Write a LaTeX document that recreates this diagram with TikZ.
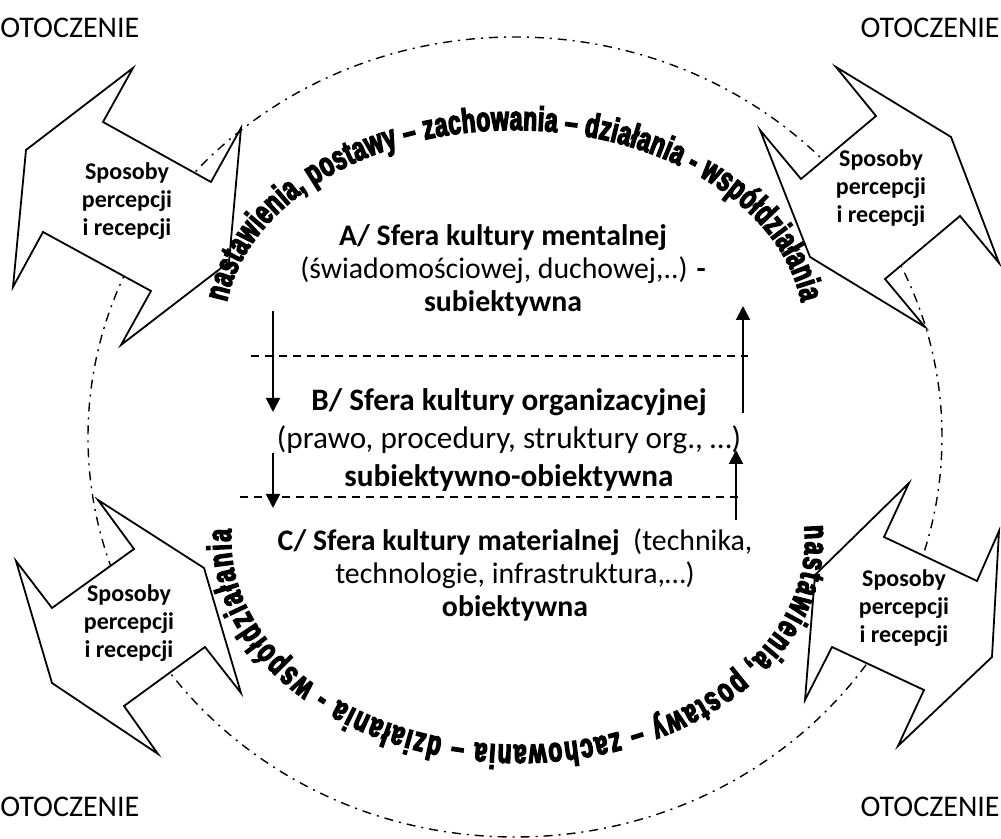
\documentclass[tikz,border=0pt]{standalone}
\usepackage{fontspec}
\setmainfont{Carlito}
\newfontfamily\arcfont{Liberation Sans}[FakeStretch=0.67, BoldFeatures={FakeBold=4}]
\usetikzlibrary{arrows.meta, decorations.text, positioning}

\begin{document}
\begin{tikzpicture}[x = 0.5pt, y = 0.5pt,
    >={Triangle[length = 7pt, width = 7pt]},
    arrowline/.style = {->, line width = 1pt},
    sepline/.style = {dash pattern = on 4pt off 3pt, line width = 0.6pt},
    outline/.style = {draw, fill = white, line width = 0.9pt, line join = miter},
    sposoby/.style = {font = \bfseries\fontsize{12}{14}\selectfont, align = center},
    otocz/.style = {font = \fontsize{15}{18}\selectfont},
    sfera/.style = {font = \fontsize{14.9}{16.5}\selectfont, align = center}]
      \useasboundingbox (0, 0) rectangle (1001, 839);

      % outer ring
      \draw [line width = 0.7pt, dash pattern = on 4.5pt off 3pt on 1pt off 3pt]
        (515, 402) ellipse [x radius = 427, y radius = 400];

      % arrow shapes
      \draw [outline] (133,771) -- (103,717) -- (211,657) -- (241,711) -- (229,577)
        -- (121,494) -- (151,548) -- (43,607) -- (13,552) -- (26,689) -- cycle;
      \draw [outline] (836,772) -- (951,702) -- (999,576) -- (960,623) -- (885,560)
        -- (925,512) -- (810,582) -- (760,709) -- (801,660) -- (876,723) -- cycle;
      \draw [outline] (98,339) -- (134,290) -- (52,231) -- (16,278) -- (52,156)
        -- (158,85) -- (124,133) -- (205,192) -- (241,146) -- (204,271) -- cycle;
      \draw [outline] (909,356) -- (884,302) -- (977,258) -- (999,308) -- (992,182)
        -- (898,93) -- (924,149) -- (832,192) -- (805,139) -- (815,264) -- cycle;

      % place nodes
      \node (sp1) [sposoby] at (127, 638) {Sposoby\\percepcji\\i recepcji};
      \node (sp2) [sposoby] at (881, 651) {Sposoby\\percepcji\\i recepcji};
      \node (sp3) [sposoby] at (129, 216) {Sposoby\\percepcji\\i recepcji};
      \node (sp4) [sposoby] at (904, 231) {Sposoby\\percepcji\\i recepcji};

      \node (ot1) [otocz, anchor = base west, inner sep = 0pt] at (0, 801) {OTOCZENIE};
      \node (ot2) [otocz, anchor = base east, inner sep = 0pt] at (1000, 801) {OTOCZENIE};
      \node (ot3) [otocz, anchor = base west, inner sep = 0pt] at (0, 22) {OTOCZENIE};
      \node (ot4) [otocz, anchor = base east, inner sep = 0pt] at (1000, 22) {OTOCZENIE};

      \node (sa) [sfera] at (503, 569) {\textbf{A/ Sfera kultury mentalnej}\\
        (świadomościowej, duchowej,..) \textbf{-}\\ \textbf{subiektywna}};
      \node (sb) [sfera, font = \fontsize{15.6}{19}\selectfont] at (509, 399)
        {\textbf{B/ Sfera kultury organizacyjnej}\\
        (prawo, procedury, struktury org., …)\\ \textbf{subiektywno-obiektywna}};
      \node (sc) [sfera] at (515, 264) {\textbf{C/ Sfera kultury materialnej}\ \ (technika,\\
        technologie, infrastruktura,…)\\ \textbf{obiektywna}};

      \coordinate (d1a) at (251, 483);
      \coordinate (d1b) at (748, 483);
      \coordinate (d2a) at (240, 342);
      \coordinate (d2b) at (738, 342);

      \coordinate (a1s) at (273, 528);
      \coordinate (a1e) at (273, 427);
      \coordinate (a2s) at (743, 426);
      \coordinate (a2e) at (743, 533);
      \coordinate (a3s) at (273, 386);
      \coordinate (a3e) at (273, 331);
      \coordinate (a4s) at (736, 319);
      \coordinate (a4e) at (736, 389);

      % draw edges
      \draw [sepline] (d1a) -- (d1b);
      \draw [sepline] (d2a) -- (d2b);

      \draw [arrowline] (a1s) -- (a1e);
      \draw [arrowline] (a2s) -- (a2e);
      \draw [arrowline] (a3s) -- (a3e);
      \draw [arrowline] (a4s) -- (a4e);

      % text round the ring
      \path [decorate, decoration = {text along path, text align = fit to path,
        text = {|\arcfont\bfseries\fontsize{17}{17}\selectfont|nastawienia, postawy – zachowania – działania - współdziałania}}]
        (226.8, 536.8) arc [start angle = 172, end angle = 8, x radius = 290, y radius = 200];
      \path [decorate, decoration = {text along path, text align = fit to path,
        text = {|\arcfont\bfseries\fontsize{17}{17}\selectfont|nastawienia, postawy – zachowania – działania - współdziałania}}]
        (804.3, 313.3) arc [start angle = 4, end angle = -183, x radius = 287, y radius = 205];
\end{tikzpicture}
\end{document}
